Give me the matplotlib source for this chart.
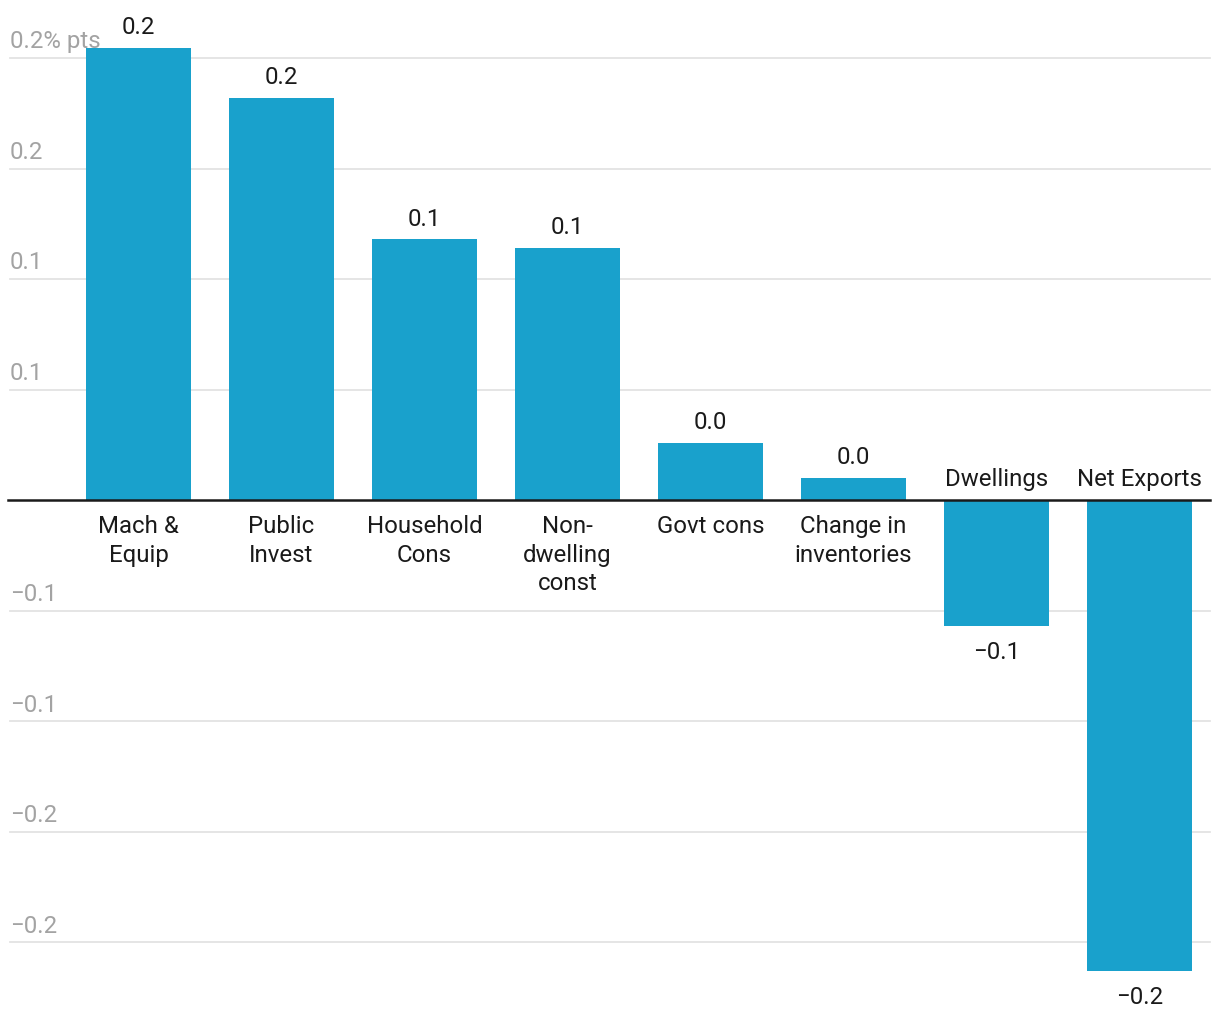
import matplotlib.pyplot as plt
import numpy as np

plt.rcParams['font.family'] = ['Roboto', 'DejaVu Sans']

categories = ["Mach &\nEquip", "Public\nInvest", "Household\nCons", "Non-\ndwelling\nconst",
              "Govt cons", "Change in\ninventories", "Dwellings", "Net Exports"]
values = [0.2046, 0.182, 0.118, 0.114, 0.026, 0.010, -0.057, -0.213]
ticks = [0.2, 0.15, 0.1, 0.05, -0.05, -0.1, -0.15, -0.2]
tick_labels = ["0.2% pts", "0.2", "0.1", "0.1", "\u22120.1", "\u22120.1", "\u22120.2", "\u22120.2"]

bar_color = "#19a1cc"
fs = 17.3

fig = plt.figure(figsize=(12.2, 10.2), dpi=100)
ax = fig.add_axes([0, 0, 1, 1])
ax.set_xlim(-0.9685, 7.563)
ax.set_ylim(-0.2348, 0.2267)
ax.axis('off')

x = np.arange(len(categories))

# gridlines + tick labels
for t, lab in zip(ticks, tick_labels):
    ax.axhline(t, xmin=0.008, xmax=0.992, color="#e3e3e3", lw=1.3, zorder=0)
    ax.annotate(lab, xy=(0.008, t), xycoords=('axes fraction', 'data'),
                xytext=(0, 4), textcoords='offset points', ha='left', va='bottom',
                fontsize=fs, color="#a3a3a3", zorder=1)

ax.bar(x, values, width=0.735, color=bar_color, zorder=2)
ax.axhline(0, xmin=0.0066, xmax=0.9918, color="#1a1a1a", lw=1.8, zorder=3)

for xi, v, c in zip(x, values, categories):
    lbl = f"{v:.1f}".replace("-", "\u2212")
    if v >= 0:
        ax.annotate(lbl, xy=(xi, v), xytext=(0, 7), textcoords='offset points',
                    ha='center', va='bottom', fontsize=fs, color="#1a1a1a")
        ax.annotate(c, xy=(xi, 0), xytext=(0, -10), textcoords='offset points',
                    ha='center', va='top', fontsize=fs, color="#1a1a1a", linespacing=1.32)
    else:
        ax.annotate(lbl, xy=(xi, v), xytext=(0, -10), textcoords='offset points',
                    ha='center', va='top', fontsize=fs, color="#1a1a1a")
        ax.annotate(c, xy=(xi, 0), xytext=(0, 7), textcoords='offset points',
                    ha='center', va='bottom', fontsize=fs, color="#1a1a1a")

fig.savefig("out.png", dpi=100)
